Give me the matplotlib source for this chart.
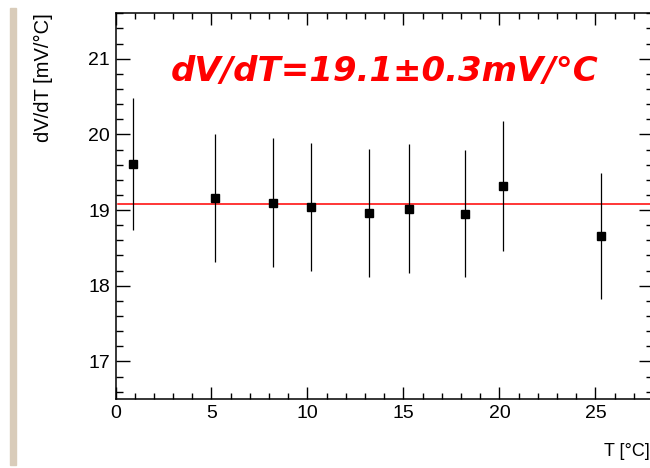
import matplotlib
matplotlib.use('Agg')
import matplotlib.pyplot as plt
from matplotlib.patches import Rectangle
from matplotlib.ticker import MultipleLocator

# measured slope per temperature point
temp = [0.9, 5.2, 8.2, 10.2, 13.2, 15.3, 18.2, 20.2, 25.3]
dvdt = [19.61, 19.16, 19.10, 19.04, 18.96, 19.02, 18.95, 19.32, 18.66]
err = [0.87, 0.85, 0.85, 0.85, 0.85, 0.85, 0.84, 0.86, 0.83]
fit_value = 19.08
fit_range = [0.15, 28]
title = 'dV/dT=19.1±0.3mV/°C'

plt.rcParams['font.family'] = ['Liberation Sans', 'DejaVu Sans']

W, H = 650, 468
fig = plt.figure(figsize=(6.5, 4.68), dpi=100)

# beige strip on the left edge
fig.patches.append(Rectangle((10 / W, 3 / H), 6 / W, 457 / H,
                             transform=fig.transFigure, color='#d9ccba', zorder=0))

ax = fig.add_axes([115.5 / W, 68.7 / H, 537.5 / W, 386 / H])
ax.set_xlim(0, 28)
ax.set_ylim(16.5, 21.6)

ax.plot(fit_range, [fit_value, fit_value], color='red', lw=1.1, zorder=2)
ax.errorbar(temp, dvdt, yerr=err, fmt='s', color='black', ms=5.8,
            elinewidth=0.9, capsize=0, zorder=3)

ax.xaxis.set_major_locator(MultipleLocator(5))
ax.xaxis.set_minor_locator(MultipleLocator(1))
ax.yaxis.set_major_locator(MultipleLocator(1))
ax.yaxis.set_minor_locator(MultipleLocator(0.2))
ax.tick_params(which='both', direction='in', top=True, right=True,
               labelsize=14, width=1, pad=4)
ax.tick_params(axis='x', which='major', length=8.5)
ax.tick_params(axis='x', which='minor', length=4.3)
ax.tick_params(axis='y', which='major', length=10)
ax.tick_params(axis='y', which='minor', length=5)
for s in ax.spines.values():
    s.set_linewidth(1.1)

fig.text(43 / W, 1 - 13 / H, 'dV/dT [mV/°C]', rotation=90,
         ha='center', va='top', fontsize=14.5)
fig.text(650 / W, 1 - 452 / H, 'T [°C]', ha='right', va='center',
         fontsize=13)
fig.text(385 / W, 1 - 71 / H, title, ha='center', va='center', color='red',
         fontsize=24.5, fontweight='bold', fontstyle='italic',
         family=['DejaVu Sans'])

fig.savefig('out.png', dpi=100)
